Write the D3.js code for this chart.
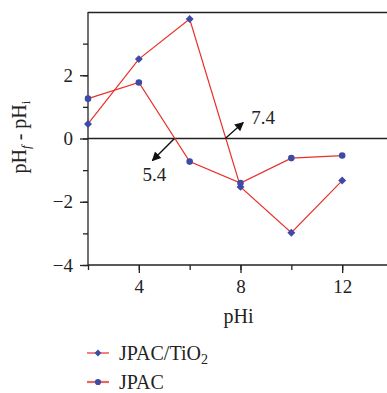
<!DOCTYPE html>
<html>
<head>
<meta charset="utf-8">
<script src="https://cdn.jsdelivr.net/npm/d3@7"></script>
<style>
  body { margin: 0; background: #fff; }
  text { font-family: "Liberation Serif", "DejaVu Serif", serif; fill: #222; }
</style>
</head>
<body>
<div id="chart"></div>
<script>
var phi = [2, 4, 6, 8, 10, 12];
var tio2 = [0.46, 2.51, 3.78, -1.53, -2.98, -1.33];
var jpac = [1.26, 1.77, -0.73, -1.41, -0.62, -0.54];
var xTicks = [4, 8, 12];
var yTicks = [-4, -2, 0, 2];
var pzc = [{ v: 5.4, dx: -22, dy: 22 }, { v: 7.4, dx: 18, dy: -16 }];

var chart_width = 387;
var chart_height = 393;
var red = '#e8302a';
var blue = '#3d4aa6';

var svg = d3.select('#chart')
  .append('svg')
  .attr('width', chart_width)
  .attr('height', chart_height);

// Scales
const xScale = d3.scaleLinear().domain([2, 14]).range([88, 393]);
const yScale = d3.scaleLinear().domain([-4, 4]).range([265, 12]);

svg.append('defs').append('marker')
  .attr('id', 'arrow')
  .attr('viewBox', '0 0 10 10')
  .attr('refX', 9).attr('refY', 5)
  .attr('markerWidth', 10).attr('markerHeight', 9)
  .attr('markerUnits', 'userSpaceOnUse')
  .attr('orient', 'auto')
  .append('path')
  .attr('d', 'M0,0 L10,5 L0,10 Z')
  .attr('fill', '#111');

// Axes
svg.append('g')
  .attr('transform', 'translate(0,265)')
  .call(d3.axisBottom(xScale).tickValues(d3.range(2, 14, 2)).tickSizeOuter(0)
    .tickSize(5).tickFormat(''))
  .call(g => g.select('.domain').attr('d', 'M88,0H387'));
svg.append('g')
  .attr('transform', 'translate(0,265)')
  .call(d3.axisBottom(xScale).tickValues(xTicks).tickSize(8).tickPadding(7))
  .call(g => g.select('.domain').remove())
  .call(g => g.selectAll('text').attr('font-size', 19).style('font-family', null));

svg.append('g')
  .attr('transform', 'translate(88,0)')
  .call(d3.axisLeft(yScale).tickValues(d3.range(-4, 4, 1)).tickSize(5).tickFormat('').tickSizeOuter(0))
  .call(g => g.select('.domain').attr('d', 'M0,12V265'));
svg.append('g')
  .attr('transform', 'translate(88,0)')
  .call(d3.axisLeft(yScale).tickValues(yTicks).tickSize(8).tickPadding(7)
    .tickFormat(d => d < 0 ? '\u2212' + Math.abs(d) : d))
  .call(g => g.select('.domain').remove())
  .call(g => g.selectAll('text').attr('font-size', 19).style('font-family', null));

svg.selectAll('.tick line').attr('stroke', '#222').attr('stroke-width', 1.3);
svg.selectAll('.domain').attr('stroke', '#222').attr('stroke-width', 1.3);

// Top frame and zero line
svg.append('line')
  .attr('x1', 88).attr('x2', 387).attr('y1', 12.5).attr('y2', 12.5)
  .attr('stroke', '#222').attr('stroke-width', 1.3);
svg.append('line')
  .attr('x1', 88).attr('x2', 387).attr('y1', yScale(0)).attr('y2', yScale(0))
  .attr('stroke', '#222').attr('stroke-width', 1.3);

// Axis titles
svg.append('text')
  .attr('x', xScale(8) - 2).attr('y', 323)
  .attr('text-anchor', 'middle').attr('font-size', 20)
  .text('pHi');

var ylab = svg.append('text')
  .attr('transform', 'translate(26,137) rotate(-90)')
  .attr('text-anchor', 'middle').attr('font-size', 20);
ylab.append('tspan').text('pH');
ylab.append('tspan').attr('font-size', 13).attr('dy', 4).attr('font-style', 'italic').text('f');
ylab.append('tspan').attr('dy', -4).text(' - pH');
ylab.append('tspan').attr('font-size', 13).attr('dy', 4).text('i');

// Series
var line = d3.line().x((d, i) => xScale(phi[i])).y(d => yScale(d));
var series = [
  { name: 'tio2', values: tio2, shape: d3.symbolDiamond2, size: 40 },
  { name: 'jpac', values: jpac, shape: d3.symbolCircle, size: 34 }
];
series.forEach(function (s) {
  svg.append('path')
    .attr('d', line(s.values))
    .attr('fill', 'none')
    .attr('stroke', red)
    .attr('stroke-width', 1.2);
  svg.selectAll('.m-' + s.name)
    .data(s.values)
    .enter()
    .append('path')
    .attr('class', 'm-' + s.name)
    .attr('transform', (d, i) => 'translate(' + xScale(phi[i]) + ',' + yScale(d) + ')')
    .attr('d', d3.symbol().type(s.shape).size(s.size))
    .attr('fill', blue);
});

// Zero-crossing annotations
pzc.forEach(function (p) {
  var x0 = xScale(p.v), y0 = yScale(0);
  svg.append('line')
    .attr('x1', x0).attr('y1', y0)
    .attr('x2', x0 + p.dx).attr('y2', y0 + p.dy)
    .attr('stroke', '#111').attr('stroke-width', 1.4)
    .attr('marker-end', 'url(#arrow)');
  svg.append('text')
    .attr('x', p.dx < 0 ? x0 - 32 : x0 + p.dx + 8)
    .attr('y', p.dx < 0 ? y0 + p.dy + 20 : y0 + p.dy + 1)
    .attr('font-size', 19)
    .text(p.v.toFixed(1));
});

// Legend
var legend = [
  { label: 'JPAC/TiO', sub: '2', shape: d3.symbolDiamond2, size: 30, stroke: red, width: 1.2 },
  { label: 'JPAC', sub: '', shape: d3.symbolCircle, size: 30, stroke: '#e8665c', width: 2.2 }
];
var lg = svg.selectAll('.legend')
  .data(legend)
  .enter()
  .append('g')
  .attr('class', 'legend')
  .attr('transform', (d, i) => 'translate(0,' + (353 + i * 29) + ')');
lg.append('line')
  .attr('x1', 87).attr('x2', 109)
  .attr('stroke', d => d.stroke).attr('stroke-width', d => d.width);
lg.append('path')
  .attr('transform', 'translate(98,0)')
  .attr('d', d => d3.symbol().type(d.shape).size(d.size)())
  .attr('fill', blue);
var lt = lg.append('text')
  .attr('x', 119).attr('y', 7)
  .attr('font-size', 20);
lt.append('tspan').text(d => d.label);
lt.append('tspan').attr('font-size', 14).attr('dy', 4).text(d => d.sub);
</script>
</body>
</html>
